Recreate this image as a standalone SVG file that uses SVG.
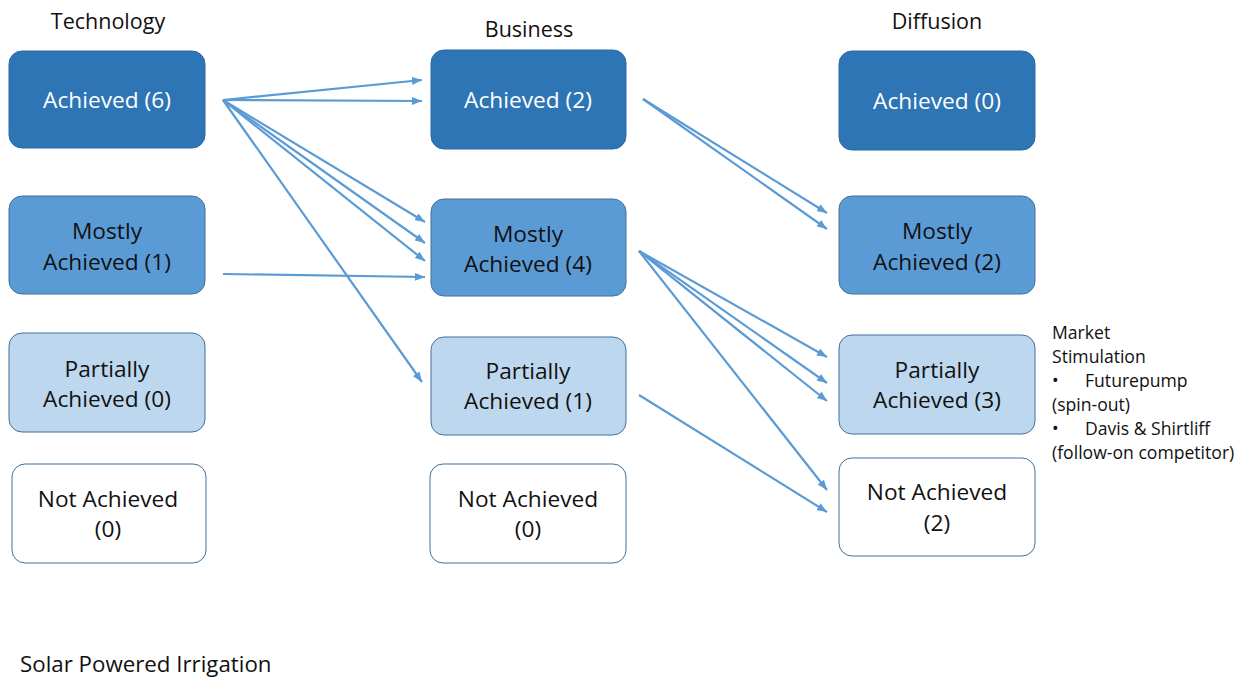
<svg xmlns="http://www.w3.org/2000/svg" width="1246" height="677" viewBox="0 0 1246 677">
<style>
text{font-family:"Open Sans","Liberation Sans",sans-serif;fill:#111}
.hd{font-size:21.5px;text-anchor:middle}
.bx{font-size:22.7px;text-anchor:middle}
.w{fill:#fff}
.a{fill:#2E75B6;stroke:#2A69A6;stroke-width:1}
.m{fill:#5B9BD5;stroke:#41719C;stroke-width:1}
.p{fill:#BDD7EE;stroke:#41719C;stroke-width:1}
.n{fill:#fff;stroke:#41719C;stroke-width:1}
.c{stroke:#5B9BD5;stroke-width:2.2;fill:none;marker-end:url(#ah)}
.nt{font-size:17.6px}
</style>
<defs>
<marker id="ah" markerUnits="userSpaceOnUse" markerWidth="10" markerHeight="8" refX="10" refY="4" orient="auto">
<path d="M0,0 L10,4 L0,8 Z" fill="#5B9BD5"/>
</marker>
</defs>
<rect width="1246" height="677" fill="#fff"/>
<g id="headers">
<text class="hd" x="108" y="29">Technology</text>
<text class="hd" x="529" y="37">Business</text>
<text class="hd" x="937" y="29">Diffusion</text>
</g>
<g id="tech-achieved"><rect class="a" x="9" y="51" width="196" height="97" rx="13"/><text class="bx w" x="107" y="108">Achieved (6)</text></g>
<g id="tech-mostly"><rect class="m" x="9" y="196" width="196" height="98" rx="13"/><text class="bx" x="107" y="239">Mostly</text><text class="bx" x="107" y="270">Achieved (1)</text></g>
<g id="tech-partially"><rect class="p" x="9" y="333" width="196" height="99" rx="13"/><text class="bx" x="107" y="377">Partially</text><text class="bx" x="107" y="407">Achieved (0)</text></g>
<g id="tech-not"><rect class="n" x="12" y="464" width="194" height="99" rx="13"/><text class="bx" x="108" y="507">Not Achieved</text><text class="bx" x="108" y="537">(0)</text></g>
<g id="bus-achieved"><rect class="a" x="431" y="50" width="195" height="99" rx="13"/><text class="bx w" x="528" y="108">Achieved (2)</text></g>
<g id="bus-mostly"><rect class="m" x="431" y="199" width="195" height="97" rx="13"/><text class="bx" x="528" y="242">Mostly</text><text class="bx" x="528" y="272">Achieved (4)</text></g>
<g id="bus-partially"><rect class="p" x="431" y="337" width="195" height="98" rx="13"/><text class="bx" x="528" y="379">Partially</text><text class="bx" x="528" y="409">Achieved (1)</text></g>
<g id="bus-not"><rect class="n" x="430" y="464" width="196" height="99" rx="13"/><text class="bx" x="528" y="507">Not Achieved</text><text class="bx" x="528" y="537">(0)</text></g>
<g id="dif-achieved"><rect class="a" x="839" y="51" width="196" height="99" rx="13"/><text class="bx w" x="937" y="109">Achieved (0)</text></g>
<g id="dif-mostly"><rect class="m" x="839" y="196" width="196" height="98" rx="13"/><text class="bx" x="937" y="239">Mostly</text><text class="bx" x="937" y="270">Achieved (2)</text></g>
<g id="dif-partially"><rect class="p" x="839" y="335" width="196" height="99" rx="13"/><text class="bx" x="937" y="378">Partially</text><text class="bx" x="937" y="408">Achieved (3)</text></g>
<g id="dif-not"><rect class="n" x="839" y="458" width="196" height="98" rx="13"/><text class="bx" x="937" y="500">Not Achieved</text><text class="bx" x="937" y="531">(2)</text></g>
<g id="connectors">
<line class="c" x1="223" y1="100" x2="422" y2="80"/>
<line class="c" x1="223" y1="100" x2="422" y2="101"/>
<line class="c" x1="223" y1="100" x2="425" y2="222"/>
<line class="c" x1="223" y1="100" x2="425" y2="243"/>
<line class="c" x1="223" y1="100" x2="425" y2="261"/>
<line class="c" x1="223" y1="100" x2="422" y2="382"/>
<line class="c" x1="223" y1="274" x2="425" y2="277"/>
<line class="c" x1="643" y1="99" x2="827" y2="213"/>
<line class="c" x1="643" y1="99" x2="827" y2="229"/>
<line class="c" x1="639" y1="251" x2="827" y2="357"/>
<line class="c" x1="639" y1="251" x2="827" y2="383"/>
<line class="c" x1="639" y1="251" x2="827" y2="401"/>
<line class="c" x1="639" y1="251" x2="827" y2="490"/>
<line class="c" x1="639" y1="395" x2="827" y2="512"/>
</g>
<g id="note">
<text class="nt" x="1052" y="339">Market</text>
<text class="nt" x="1052" y="363">Stimulation</text>
<text class="nt" x="1052" y="387">•</text><text class="nt" x="1085" y="387">Futurepump</text>
<text class="nt" x="1052" y="411">(spin-out)</text>
<text class="nt" x="1052" y="435">•</text><text class="nt" x="1085" y="435">Davis &amp; Shirtliff</text>
<text class="nt" x="1052" y="459">(follow-on competitor)</text>
</g>
<g id="title"><text x="20" y="672" style="font-size:22.3px">Solar Powered Irrigation</text></g>
</svg>
